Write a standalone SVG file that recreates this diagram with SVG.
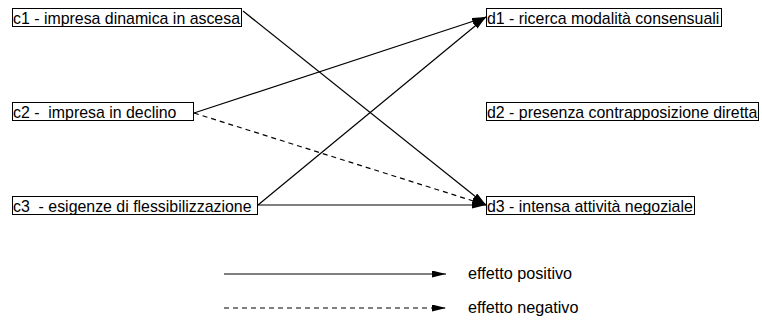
<svg xmlns="http://www.w3.org/2000/svg" width="762" height="327" viewBox="0 0 762 327">
<style>
.box{fill:#fff;stroke:#000;stroke-width:1}
.t{font-family:"Liberation Sans",Arial,sans-serif;font-size:15.9px;fill:#000}
.lt{font-family:"Liberation Sans",Arial,sans-serif;font-size:16.2px;fill:#000}
.c{stroke:#000;stroke-width:1.2;fill:none;marker-end:url(#ah)}
.d{stroke-dasharray:5,4}
</style>
<defs>
<marker id="ah" viewBox="0 0 14 7" refX="14" refY="3.5" markerWidth="14" markerHeight="7" markerUnits="userSpaceOnUse" orient="auto">
<path d="M0,0 L14,3.5 L0,7 z" fill="#000"/>
</marker>
</defs>
<rect width="762" height="327" fill="#fff"/>
<g id="connectors">
<line class="c" x1="243" y1="11" x2="486" y2="205"/>
<line class="c" x1="194" y1="113" x2="486" y2="17"/>
<line class="c d" x1="194" y1="113" x2="486" y2="205"/>
<line class="c" x1="258" y1="205" x2="486" y2="17"/>
<line class="c" x1="258" y1="205" x2="486" y2="205"/>
</g>
<g id="c1"><rect class="box" x="12.5" y="8.5" width="229" height="18"/><text class="t" x="13" y="23.5">c1 - impresa dinamica in ascesa</text></g>
<g id="c2"><rect class="box" x="12.5" y="102.5" width="181" height="18"/><text class="t" x="13" y="117.5" xml:space="preserve">c2 -  impresa in declino</text></g>
<g id="c3"><rect class="box" x="12.5" y="196.5" width="245" height="18"/><text class="t" x="13" y="211.5" xml:space="preserve">c3  - esigenze di flessibilizzazione</text></g>
<g id="d1"><rect class="box" x="486.5" y="8.5" width="235" height="18"/><text class="t" x="487" y="23.5">d1 - ricerca modalità consensuali</text></g>
<g id="d2"><rect class="box" x="486.5" y="102.5" width="272" height="18"/><text class="t" x="487" y="117.5">d2 - presenza contrapposizione diretta</text></g>
<g id="d3"><rect class="box" x="486.5" y="196.5" width="208" height="18"/><text class="t" x="487" y="211.5">d3 - intensa attività negoziale</text></g>
<g id="legend">
<line class="c" x1="224" y1="274" x2="446" y2="274"/>
<line class="c d" x1="224" y1="308" x2="446" y2="308"/>
<text class="lt" x="468" y="279">effetto positivo</text>
<text class="lt" x="468" y="313">effetto negativo</text>
</g>
</svg>
